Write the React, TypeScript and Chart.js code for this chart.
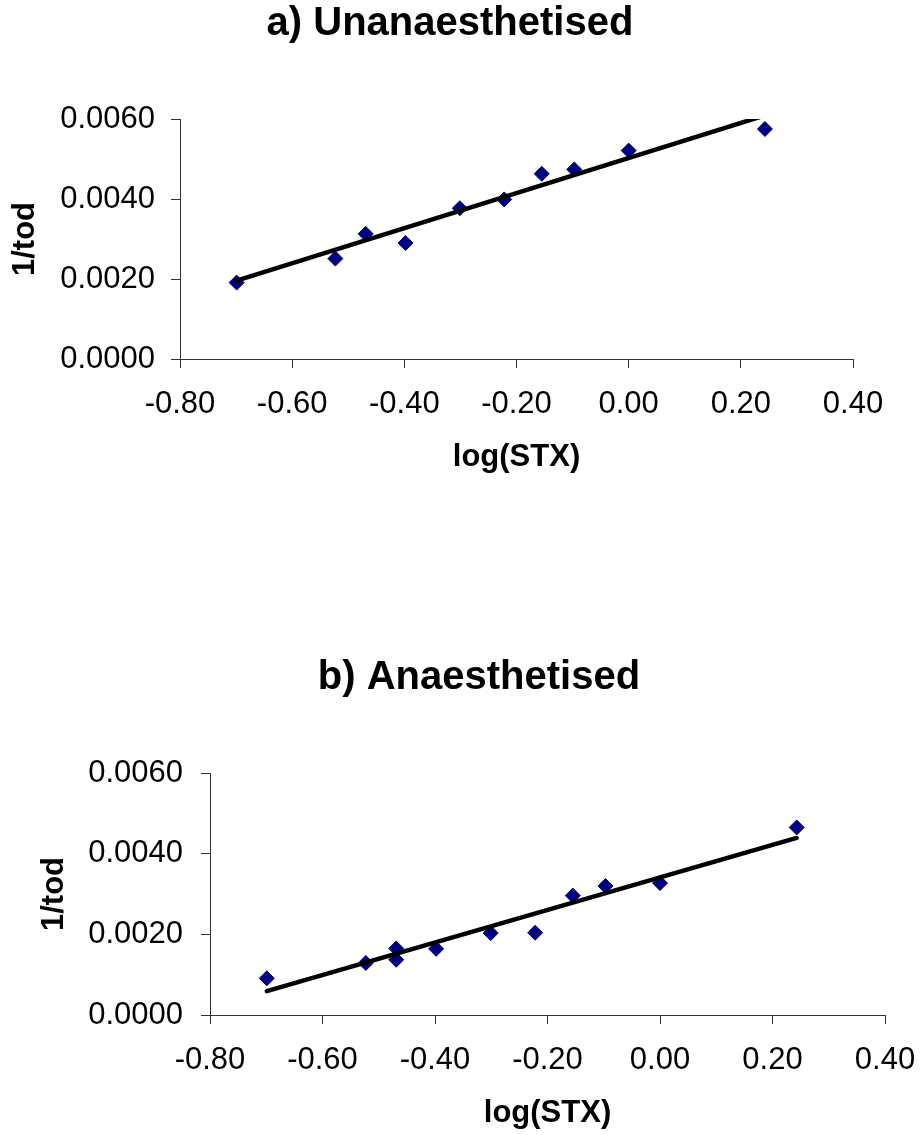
import React, { useEffect, useRef } from 'react';
import { Chart, registerables } from 'chart.js';

Chart.register(...registerables);

// ---- data ----
const xTickValues = [-0.8, -0.6, -0.4, -0.2, 0.0, 0.2, 0.4];
const yTickValues = [0.0, 0.002, 0.004, 0.006];

const titleA = 'a) Unanaesthetised';
const logSTX_A = [-0.699, -0.523, -0.469, -0.398, -0.301, -0.222, -0.155, -0.097, 0.0, 0.243];
const invTod_A = [0.00191, 0.00251, 0.00313, 0.0029, 0.00377, 0.00399, 0.00463, 0.00474, 0.00521, 0.00575];
const trendX_A = [-0.699, 0.243];
const trendY_A = [0.00196, 0.00609];

const titleB = 'b) Anaesthetised';
const logSTX_B = [-0.699, -0.523, -0.469, -0.469, -0.398, -0.301, -0.222, -0.155, -0.097, 0.0, 0.243];
const invTod_B = [0.00091, 0.00129, 0.00165, 0.00137, 0.00164, 0.00203, 0.00204, 0.00296, 0.0032, 0.00327, 0.00465];
const trendX_B = [-0.699, 0.243];
const trendY_B = [0.00059, 0.00439];

const xTitle = 'log(STX)';
const yTitle = '1/tod';

const FAMILY = "'Liberation Sans', Arial, Helvetica, sans-serif";

type Layout = {
  L: number; R: number; P: number; yW: number; xH: number;
  tt: number; tb: number; xtb: number; yTitleLH: number; yTickPad: number;
};

const layoutA: Layout = { L: 7, R: 27, P: 67, yW: 173, xH: 161, tt: 0, tb: 71, xtb: 44.4, yTitleLH: 1.2, yTickPad: 16 };
const layoutB: Layout = { L: 38, R: 0, P: 35, yW: 172, xH: 120, tt: 134, tb: 71, xtb: 3.4, yTitleLH: 1.05, yTickPad: 18 };

function makeConfig(title: string, xs: number[], ys: number[], tx: number[], ty: number[], p: Layout): any {
  const tickFont = { family: FAMILY, size: 31, weight: 'normal' as const, lineHeight: 1.2 };
  return {
    type: 'scatter',
    data: {
      datasets: [
        {
          label: 'trend',
          data: tx.map((x, i) => ({ x, y: ty[i] })),
          showLine: true,
          borderColor: '#000000',
          borderWidth: 4.5,
          borderCapStyle: 'round',
          pointRadius: 0,
          fill: false,
        },
        {
          label: '1/tod',
          data: xs.map((x, i) => ({ x, y: ys[i] })),
          showLine: false,
          pointStyle: 'rectRot',
          pointRadius: 7.5,
          backgroundColor: '#000080',
          borderColor: '#000080',
          borderWidth: 1,
        },
      ],
    },
    options: {
      animation: false,
      responsive: false,
      devicePixelRatio: 1,
      events: [],
      layout: { padding: { left: p.L, right: p.R, top: 0, bottom: 0 } },
      plugins: {
        legend: { display: false },
        tooltip: { enabled: false },
        title: {
          display: true,
          text: title,
          color: '#000000',
          font: { family: FAMILY, size: 40, weight: 'bold', lineHeight: 1.2 },
          padding: { top: p.tt, bottom: p.tb },
        },
      },
      scales: {
        x: {
          type: 'linear',
          position: 'bottom',
          min: -0.8,
          max: 0.4,
          afterBuildTicks: (s: any) => {
            s.ticks = xTickValues.map((v) => ({ value: v }));
          },
          afterFit: (s: any) => {
            s.height = p.xH;
            s.paddingLeft = 0;
            s.paddingRight = p.P;
          },
          ticks: {
            callback: (v: any) => Number(v).toFixed(2),
            font: tickFont,
            color: '#000000',
            padding: 18,
            maxRotation: 0,
            autoSkip: false,
          },
          grid: { drawOnChartArea: false, drawTicks: true, tickLength: 9, color: '#333333', lineWidth: 1 },
          border: { display: true, color: '#333333', width: 1 },
          title: {
            display: true,
            text: xTitle,
            color: '#000000',
            font: { family: FAMILY, size: 31, weight: 'bold', lineHeight: 1.2 },
            padding: { top: 0, bottom: p.xtb },
          },
        },
        y: {
          type: 'linear',
          position: 'left',
          min: 0,
          max: 0.006,
          afterBuildTicks: (s: any) => {
            s.ticks = yTickValues.map((v) => ({ value: v }));
          },
          afterFit: (s: any) => {
            s.width = p.yW;
          },
          ticks: {
            callback: (v: any) => Number(v).toFixed(4),
            font: tickFont,
            color: '#000000',
            padding: p.yTickPad,
            autoSkip: false,
          },
          grid: { drawOnChartArea: false, drawTicks: true, tickLength: 9, color: '#333333', lineWidth: 1 },
          border: { display: true, color: '#333333', width: 1 },
          title: {
            display: true,
            text: yTitle,
            color: '#000000',
            font: { family: FAMILY, size: 31, weight: 'bold', lineHeight: p.yTitleLH },
            padding: { top: 0, bottom: 0 },
          },
        },
      },
    },
  };
}

function ChartCanvas(props: { height: number; config: () => any }) {
  const ref = useRef<HTMLCanvasElement | null>(null);
  useEffect(() => {
    if (!ref.current) return;
    const chart = new Chart(ref.current, props.config());
    return () => chart.destroy();
  }, []);
  return <canvas ref={ref} width={920} height={props.height} style={{ display: 'block', width: 920, height: props.height }} />;
}

export default function App() {
  useEffect(() => {
    document.body.style.margin = '0';
    document.body.style.background = '#ffffff';
  }, []);
  return (
    <div style={{ width: 920, height: 1135, background: '#ffffff', overflow: 'hidden' }}>
      <ChartCanvas height={520} config={() => makeConfig(titleA, logSTX_A, invTod_A, trendX_A, trendY_A, layoutA)} />
      <ChartCanvas height={615} config={() => makeConfig(titleB, logSTX_B, invTod_B, trendX_B, trendY_B, layoutB)} />
    </div>
  );
}
